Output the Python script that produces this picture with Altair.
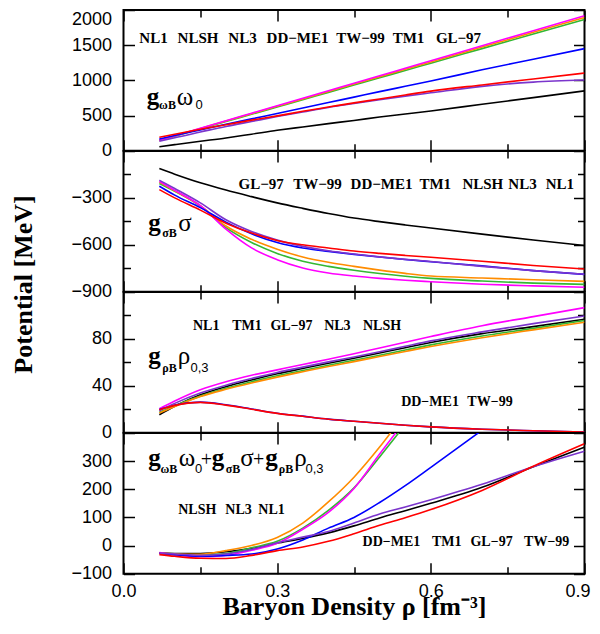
import altair as alt
import pandas as pd

# ---------------- data ----------------
X = [0.07, 0.1, 0.15, 0.2, 0.25, 0.3, 0.35, 0.4, 0.45, 0.5, 0.55, 0.6, 0.7, 0.8, 0.9]

# drawing order (last drawn on top)
MODELS = ["GL-97", "NL3", "NLSH", "NL1", "DD-ME1", "TM1", "TW-99"]
COLORS = ["#000000", "#33b833", "#ff8c00", "#ff00ff", "#0000ff", "#7b35cc", "#ff0000"]

# g_wB * omega_0  [MeV]
OMEGA_GL97 = [57, 86, 134, 181, 235, 290, 338, 385, 430, 478, 521, 564, 660, 755, 851]
OMEGA_NL3 = [145, 207, 311, 415, 518, 622, 726, 829, 933, 1037, 1140, 1244, 1451, 1658, 1866]
OMEGA_NLSH = [147, 210, 316, 421, 526, 631, 736, 842, 947, 1052, 1157, 1262, 1473, 1683, 1894]
OMEGA_NL1 = [149, 213, 320, 426, 533, 640, 746, 853, 959, 1066, 1172, 1279, 1492, 1706, 1919]
OMEGA_DDME1 = [166, 215, 295, 375, 452, 530, 607, 685, 762, 840, 915, 990, 1150, 1300, 1451]
OMEGA_TM1 = [133, 185, 265, 345, 415, 485, 550, 615, 670, 725, 776, 823, 915, 975, 1004]
OMEGA_TW99 = [190, 235, 305, 370, 435, 495, 560, 620, 680, 735, 792, 847, 935, 1020, 1104]

# g_sB * sigma  [MeV]
SIGMA_GL97 = [-112, -148, -203, -250, -292, -332, -367, -400, -429, -452, -473, -493, -532, -569, -604]
SIGMA_NL3 = [-208, -258, -352, -490, -585, -655, -705, -738, -763, -784, -801, -815, -832, -845, -853]
SIGMA_NLSH = [-199, -255, -350, -480, -565, -628, -678, -712, -738, -762, -783, -800, -812, -824, -834]
SIGMA_NL1 = [-195, -252, -350, -500, -620, -695, -748, -780, -800, -815, -827, -836, -852, -863, -872]
SIGMA_DDME1 = [-225, -282, -362, -455, -530, -585, -620, -642, -661, -678, -694, -708, -735, -765, -789]
SIGMA_TM1 = [-187, -240, -332, -440, -515, -570, -610, -638, -659, -677, -693, -707, -738, -765, -789]
SIGMA_TW99 = [-247, -300, -378, -462, -525, -572, -600, -620, -640, -655, -668, -680, -705, -732, -755]

# g_rB * rho_0,3  [MeV]
RHO_GL97 = [15.3, 22.5, 32.3, 39.3, 45, 50.2, 54.8, 59.3, 63.5, 68, 72.5, 76.9, 84.5, 90.5, 96.8]
RHO_NL3 = [17.5, 23, 31.2, 37.9, 43.5, 48.5, 53, 57.5, 61.8, 66, 70.5, 74.9, 82.5, 89, 95.7]
RHO_NLSH = [16.8, 22.3, 30.8, 37, 42.4, 47.4, 52, 56.5, 60.6, 65, 69.3, 73.5, 81, 87.7, 94.2]
RHO_NL1 = [20.4, 27, 36.6, 43.5, 49, 53.6, 58.2, 62.7, 67.3, 72.3, 77.2, 82, 91.2, 99, 106.7]
RHO_DDME1 = [19.8, 23.6, 26.1, 23.8, 20.2, 16.6, 14.1, 11.6, 9.7, 8, 6.4, 5, 3, 1.7, 0.6]
RHO_TM1 = [18.7, 25, 33.8, 40.5, 46.2, 51.4, 55.9, 60.4, 64.6, 69, 73.7, 78.3, 86, 93, 99.6]
RHO_TW99 = [19.6, 23.3, 25.9, 23.5, 20, 16.5, 14, 11.5, 9.7, 8, 6.4, 5, 3, 1.7, 0.6]

# sum of the three  [MeV]  (None = beyond the top of the panel)
SUM_GL97 = [-26, -28, -28, -22, -10, 8, 25, 45, 70, 98, 124, 150, 207, 280, 350]
SUM_NL3 = [-26, -31, -34, -28, -8, 15, 62, 125, 205, 315, 430, None, None, None, None]
SUM_NLSH = [-26, -30, -31, -18, 0, 29, 80, 155, 243, 350, 470, None, None, None, None]
SUM_NL1 = [-25, -32, -40, -35, -17, 8, 58, 118, 203, 325, 445, None, None, None, None]
SUM_DDME1 = [-28, -33, -38, -35, -30, -12, 20, 62, 100, 153, 213, 278, 410, None, None]
SUM_TM1 = [-27, -30, -35, -30, -14, 10, 30, 50, 80, 112, 137, 163, 218, 280, 335]
SUM_TW99 = [-32, -38, -45, -46, -35, -18, -5, 15, 42, 72, 99, 128, 196, 282, 362]

# axis values
X_MAJOR = [0.0, 0.3, 0.6, 0.9]
X_MINOR = [0.15, 0.45, 0.75]
Y1_LABELS, Y1_MINOR = [0, 500, 1000, 1500, 2000], []
Y2_LABELS, Y2_MINOR = [-300, -600, -900], [-150, -450, -750]
Y3_LABELS, Y3_MINOR = [0, 40, 80], [20, 60, 100]
Y4_LABELS, Y4_MINOR = [-100, 0, 100, 200, 300], []

# model name labels
W1_TEXT = ["NL1", "NLSH", "NL3", "DD\u2212ME1", "TW\u221299", "TM1", "GL\u221297"]
W1_X = [0.0586, 0.1455, 0.2323, 0.3397, 0.4627, 0.5564, 0.654]
W1_Y = [1537] * 7
W2_TEXT = ["GL\u221297", "TW\u221299", "DD\u2212ME1", "TM1", "NLSH", "NL3", "NL1"]
W2_X = [0.2688, 0.3788, 0.5037, 0.6087, 0.7015, 0.779, 0.8518]
W2_Y = [-240] * 7
W3_TEXT = ["NL1", "TM1", "GL\u221297", "NL3", "NLSH", "DD\u2212ME1", "TW\u221299"]
W3_X = [0.1614, 0.2411, 0.328, 0.4175, 0.5047, 0.5984, 0.7155]
W3_Y = [87.7] * 5 + [22.5] * 2
W4_TEXT = ["NLSH", "NL3", "NL1", "DD\u2212ME1", "TM1", "GL\u221297", "TW\u221299"]
W4_X = [0.1441, 0.2245, 0.289, 0.5232, 0.631, 0.7185, 0.8262]
W4_Y = [111.5] * 3 + [0] * 4

# formula labels (pieces: g = bold g, G = greek, s = subscript letters, d = subscript digits, p = plus)
F1_TEXT = ["g", "\u03c9B", "\u03c9", "0"]
F1_KIND = ["g", "s", "G", "d"]
F1_X = [0.0576, 0.0859, 0.1201, 0.1474]
F1_Y = [647, 590, 647, 590]
F2_TEXT = ["g", "\u03c3B", "\u03c3"]
F2_KIND = ["g", "s", "G"]
F2_X = [0.0605, 0.0898, 0.1201]
F2_Y = [-512, -551, -512]
F3_TEXT = ["g", "\u03c1B", "\u03c1", "0,3"]
F3_KIND = ["g", "s", "G", "d"]
F3_X = [0.0605, 0.0898, 0.1181, 0.1484]
F3_Y = [58.5, 52, 58.5, 52]
F4_TEXT = ["g", "\u03c9B", "\u03c9", "0", "+", "g", "\u03c3B", "\u03c3", "+", "g", "\u03c1B", "\u03c1", "0,3"]
F4_KIND = ["g", "s", "G", "d", "p", "g", "s", "G", "p", "g", "s", "G", "d"]
F4_X = [0.0605, 0.0888, 0.124, 0.1468, 0.162, 0.1845, 0.2138, 0.2411, 0.2636, 0.2889, 0.3173, 0.3456, 0.3729]
F4_Y = [283, 259, 283, 259, 283, 283, 259, 283, 283, 283, 259, 283, 259]

# ---------------- styling ----------------
SERIF = "Liberation Serif"
SANS = "Liberation Sans"
MAJOR = 11
MINOR = 7
W, H = 461, 140.7
KIND_STYLE = {
    "g": dict(font=SERIF, fontWeight="bold", fontSize=25),
    "G": dict(font=SERIF, fontWeight="normal", fontSize=25),
    "p": dict(font=SERIF, fontWeight="normal", fontSize=20),
    "s": dict(font=SERIF, fontWeight="bold", fontSize=12),
    "d": dict(font=SANS, fontWeight="normal", fontSize=13),
}
XS = alt.Scale(domain=[0, 0.9], nice=False, zero=False)


def ax(orient, values, size, **kw):
    base = dict(orient=orient, values=values, tickSize=size, offset=-size, domain=False,
                grid=False, labels=False, title=None, tickColor="black", tickWidth=1.5,
                minExtent=0)
    base.update(kw)
    return alt.Axis(**base)


def panel(series, ydom, ylab, yminor, wt, wx, wy, wsize, ft, fk, fx, fy,
          bottom=False, ytitle=None, top_flush=False):
    rows = []
    for m in MODELS:
        for xv, v in zip(X, series[m]):
            rows.append({"x": xv, "v": v, "model": m})
    df = pd.DataFrame(rows)
    ys = alt.Scale(domain=ydom, nice=False, zero=False)

    def enc(xa, ya):
        return {"x": alt.X("x:Q", scale=XS, axis=xa), "y": alt.Y("v:Q", scale=ys, axis=ya)}

    ylab_kw = dict(labels=True, format="d", labelPadding=12, labelFlush=False, labelOverlap=False)
    if top_flush:
        ylab_kw["labelBaseline"] = {"condition": {"test": "datum.value == %d" % ydom[1], "value": "top"},
                                    "value": "middle"}
    if ytitle:
        ylab_kw.update(title=ytitle, titleFont=SERIF, titleFontSize=26, titleFontWeight="bold",
                       titleAngle=270, titleAlign="center", titleBaseline="alphabetic",
                       titleX=-102.8, titleY=133, titleColor="black")
    xb_kw = {}
    if bottom:
        xb_kw = dict(labels=True, format=".1f", labelPadding=9, labelFlush=False, labelOverlap=False,
                     labelOffset={"condition": {"test": "datum.value > 0.85", "value": -7}, "value": 0},
                     title="Baryon Density \u03c1 [fm\u207b\u00b3]", titleFont=SERIF, titleFontSize=26,
                     titleFontWeight="bold", titleBaseline="alphabetic", titleY=51.5, titleColor="black")

    lines = alt.Chart(df).mark_line(clip=True, strokeWidth=1.6, interpolate="monotone").encode(
        **enc(ax("bottom", X_MAJOR, MAJOR, **xb_kw), ax("left", ylab, MAJOR, **ylab_kw)),
        color=alt.Color("model:N", scale=alt.Scale(domain=MODELS, range=COLORS), legend=None),
    )

    def ghost(xa, ya):
        return alt.Chart(df).mark_line(clip=True, strokeOpacity=0).encode(**enc(xa, ya), detail="model:N")

    l2 = ghost(ax("bottom", X_MINOR, MINOR), ax("left", yminor, MINOR) if yminor else None)
    l3 = ghost(ax("top", X_MAJOR, MAJOR), ax("right", ylab, MAJOR))
    l4 = ghost(ax("top", X_MINOR, MINOR), ax("right", yminor, MINOR) if yminor else None)

    wdf = pd.DataFrame({"x": wx, "v": wy, "t": wt})
    words = alt.Chart(wdf).mark_text(font=SERIF, fontWeight="bold", fontSize=wsize, align="center",
                                     baseline="alphabetic", color="black").encode(**enc(None, None), text="t:N")
    fl = []
    for kind, st in KIND_STYLE.items():
        sel = [i for i, k in enumerate(fk) if k == kind]
        if not sel:
            continue
        fdf = pd.DataFrame({"x": [fx[i] for i in sel], "v": [fy[i] for i in sel], "t": [ft[i] for i in sel]})
        fl.append(alt.Chart(fdf).mark_text(align="center", baseline="alphabetic", color="black", **st)
                  .encode(**enc(None, None), text="t:N"))

    return alt.layer(lines, l2, l3, l4, words, *fl).resolve_axis(
        x="independent", y="independent").properties(width=W, height=H)


S1 = {"GL-97": OMEGA_GL97, "NL3": OMEGA_NL3, "NLSH": OMEGA_NLSH, "NL1": OMEGA_NL1,
      "DD-ME1": OMEGA_DDME1, "TM1": OMEGA_TM1, "TW-99": OMEGA_TW99}
S2 = {"GL-97": SIGMA_GL97, "NL3": SIGMA_NL3, "NLSH": SIGMA_NLSH, "NL1": SIGMA_NL1,
      "DD-ME1": SIGMA_DDME1, "TM1": SIGMA_TM1, "TW-99": SIGMA_TW99}
S3 = {"GL-97": RHO_GL97, "NL3": RHO_NL3, "NLSH": RHO_NLSH, "NL1": RHO_NL1,
      "DD-ME1": RHO_DDME1, "TM1": RHO_TM1, "TW-99": RHO_TW99}
S4 = {"GL-97": SUM_GL97, "NL3": SUM_NL3, "NLSH": SUM_NLSH, "NL1": SUM_NL1,
      "DD-ME1": SUM_DDME1, "TM1": SUM_TM1, "TW-99": SUM_TW99}

p1 = panel(S1, [0, 2000], Y1_LABELS, Y1_MINOR, W1_TEXT, W1_X, W1_Y, 15,
           F1_TEXT, F1_KIND, F1_X, F1_Y, top_flush=True)
p2 = panel(S2, [-900, 0], Y2_LABELS, Y2_MINOR, W2_TEXT, W2_X, W2_Y, 15,
           F2_TEXT, F2_KIND, F2_X, F2_Y, ytitle="Potential [MeV]")
p3 = panel(S3, [0, 120], Y3_LABELS, Y3_MINOR, W3_TEXT, W3_X, W3_Y, 14,
           F3_TEXT, F3_KIND, F3_X, F3_Y)
p4 = panel(S4, [-100, 400], Y4_LABELS, Y4_MINOR, W4_TEXT, W4_X, W4_Y, 14,
           F4_TEXT, F4_KIND, F4_X, F4_Y, bottom=True)

chart = alt.vconcat(p1, p2, p3, p4, spacing=0).properties(
    bounds="flush", padding={"left": 1.5, "top": 0, "right": 0, "bottom": 4}
).configure_view(stroke="black", strokeWidth=2).configure_axis(
    labelFont=SANS, labelFontSize=18, labelColor="black"
)

chart.save("out.html", embed_options={"renderer": "svg", "actions": False})
